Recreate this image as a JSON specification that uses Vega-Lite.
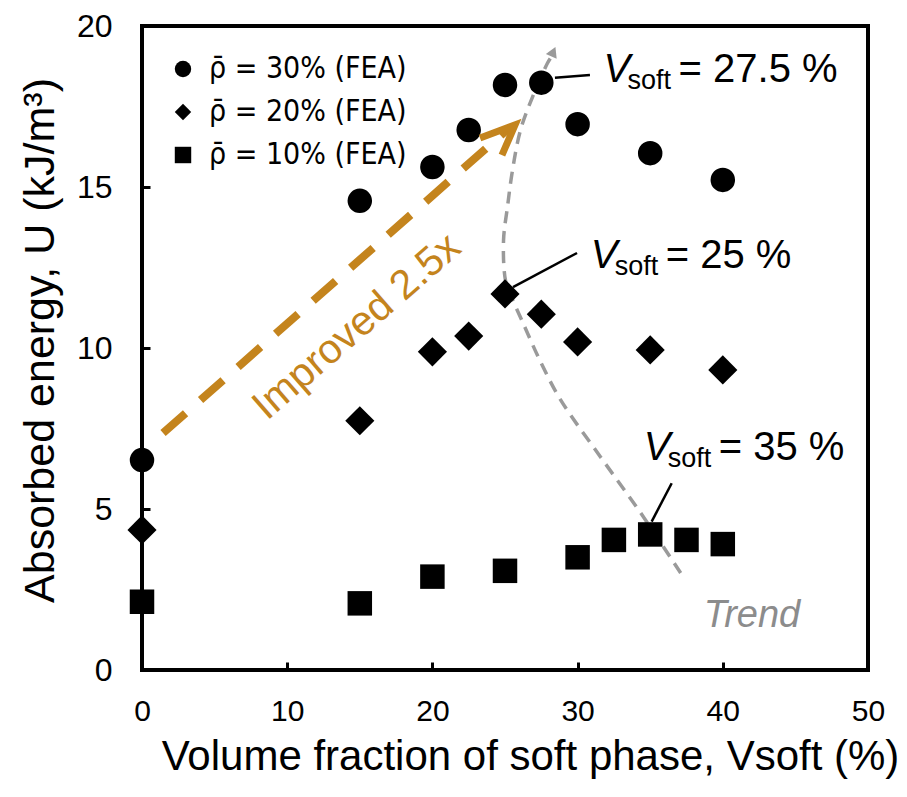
{
  "$schema": "https://vega.github.io/schema/vega-lite/v6.json",
  "width": 726,
  "height": 644,
  "autosize": "none",
  "padding": {"left": 142, "top": 26, "right": 39, "bottom": 127},
  "background": "white",
  "config": {
    "font": "Liberation Sans",
    "view": {"stroke": "black", "strokeWidth": 4}
  },
  "datasets": {
    "points": [
      {"x": 0, "y": 6.52, "series": "ρ̄ = 30% (FEA)"},
      {"x": 15, "y": 14.57, "series": "ρ̄ = 30% (FEA)"},
      {"x": 20, "y": 15.62, "series": "ρ̄ = 30% (FEA)"},
      {"x": 22.5, "y": 16.77, "series": "ρ̄ = 30% (FEA)"},
      {"x": 25, "y": 18.17, "series": "ρ̄ = 30% (FEA)"},
      {"x": 27.5, "y": 18.24, "series": "ρ̄ = 30% (FEA)"},
      {"x": 30, "y": 16.95, "series": "ρ̄ = 30% (FEA)"},
      {"x": 35, "y": 16.05, "series": "ρ̄ = 30% (FEA)"},
      {"x": 40, "y": 15.22, "series": "ρ̄ = 30% (FEA)"},
      {"x": 0, "y": 4.35, "series": "ρ̄ = 20% (FEA)"},
      {"x": 15, "y": 7.74, "series": "ρ̄ = 20% (FEA)"},
      {"x": 20, "y": 9.88, "series": "ρ̄ = 20% (FEA)"},
      {"x": 22.5, "y": 10.37, "series": "ρ̄ = 20% (FEA)"},
      {"x": 25, "y": 11.68, "series": "ρ̄ = 20% (FEA)"},
      {"x": 27.5, "y": 11.05, "series": "ρ̄ = 20% (FEA)"},
      {"x": 30, "y": 10.19, "series": "ρ̄ = 20% (FEA)"},
      {"x": 35, "y": 9.94, "series": "ρ̄ = 20% (FEA)"},
      {"x": 40, "y": 9.32, "series": "ρ̄ = 20% (FEA)"},
      {"x": 0, "y": 2.12, "series": "ρ̄ = 10% (FEA)"},
      {"x": 15, "y": 2.07, "series": "ρ̄ = 10% (FEA)"},
      {"x": 20, "y": 2.9, "series": "ρ̄ = 10% (FEA)"},
      {"x": 25, "y": 3.08, "series": "ρ̄ = 10% (FEA)"},
      {"x": 30, "y": 3.5, "series": "ρ̄ = 10% (FEA)"},
      {"x": 32.5, "y": 4.04, "series": "ρ̄ = 10% (FEA)"},
      {"x": 35, "y": 4.21, "series": "ρ̄ = 10% (FEA)"},
      {"x": 37.5, "y": 4.04, "series": "ρ̄ = 10% (FEA)"},
      {"x": 40, "y": 3.91, "series": "ρ̄ = 10% (FEA)"}
    ],
    "trend": [
      {"x": 37.1, "y": 3.01, "o": 1},
      {"x": 34.34, "y": 4.88, "o": 2},
      {"x": 31.59, "y": 6.61, "o": 3},
      {"x": 28.83, "y": 8.39, "o": 4},
      {"x": 27.45, "y": 9.57, "o": 5},
      {"x": 26.21, "y": 10.81, "o": 6},
      {"x": 25.38, "y": 11.65, "o": 7},
      {"x": 25.03, "y": 12.11, "o": 8},
      {"x": 24.9, "y": 13.35, "o": 9},
      {"x": 25.17, "y": 14.38, "o": 10},
      {"x": 25.52, "y": 15.53, "o": 11},
      {"x": 26.07, "y": 16.77, "o": 12},
      {"x": 26.9, "y": 17.8, "o": 13},
      {"x": 27.93, "y": 18.85, "o": 14},
      {"x": 28.2, "y": 19.05, "o": 15}
    ],
    "trendHead": [{"x": 28.33, "y": 19.2}],
    "improveLine": [
      {"x": 1.45, "y": 7.36, "o": 1},
      {"x": 25.29, "y": 16.83, "o": 2}
    ],
    "improveHead": [
      {"x": 23.28, "y": 16.52, "o": 1},
      {"x": 25.69, "y": 16.93, "o": 2},
      {"x": 24.79, "y": 15.99, "o": 3}
    ],
    "improveText": [{"x": 14.81, "y": 10.65, "label": "Improved 2.5x"}],
    "leaders": [
      {"x": 28.44, "y": 18.39, "x2": 30.85, "y2": 18.48},
      {"x": 25.55, "y": 11.89, "x2": 29.96, "y2": 12.95},
      {"x": 35.1, "y": 4.61, "x2": 36.48, "y2": 5.8}
    ],
    "annotations": [
      {"x": 31.79, "y": 18.26, "rest": "= 27.5 %"},
      {"x": 30.9, "y": 12.48, "rest": "= 25 %"},
      {"x": 34.55, "y": 6.52, "rest": "= 35 %"}
    ],
    "trendText": [{"x": 38.69, "y": 1.34, "label": "Trend"}]
  },
  "encoding": {
    "x": {
      "field": "x",
      "type": "quantitative",
      "scale": {"domain": [0, 50], "nice": false, "zero": false},
      "axis": {
        "values": [0, 10, 20, 30, 40, 50],
        "title": "Volume  fraction of soft phase, Vsoft (%)",
        "grid": false,
        "domain": false,
        "labelFlush": false,
        "tickSize": -8,
        "tickWidth": 3,
        "tickColor": "black",
        "labelPadding": 34,
        "labelFontSize": 30,
        "labelColor": "black",
        "labelFont": "Liberation Sans",
        "titleFont": "Liberation Sans",
        "titleFontSize": 42,
        "titleFontWeight": "normal",
        "titleColor": "black",
        "titlePadding": 10,
        "titleX": 388
      }
    },
    "y": {
      "field": "y",
      "type": "quantitative",
      "scale": {"domain": [0, 20], "nice": false, "zero": false},
      "axis": {
        "values": [0, 5, 10, 15, 20],
        "title": "Absorbed energy, U (kJ/m³)",
        "grid": false,
        "domain": false,
        "labelFlush": false,
        "tickSize": -8,
        "tickWidth": 3,
        "tickColor": "black",
        "labelPadding": 38,
        "labelFontSize": 32,
        "labelColor": "black",
        "labelFont": "Liberation Sans",
        "titleFont": "Liberation Sans",
        "titleFontSize": 43,
        "titleFontWeight": "normal",
        "titleColor": "black",
        "titlePadding": 14,
        "titleY": 314
      }
    }
  },
  "layer": [
    {
      "data": {"name": "trend"},
      "mark": {"type": "line", "color": "#9a9a9a", "strokeWidth": 3.5, "strokeDash": [12, 8], "interpolate": "catmull-rom"},
      "encoding": {"order": {"field": "o", "type": "quantitative"}}
    },
    {
      "data": {"name": "trendHead"},
      "mark": {"type": "point", "shape": "triangle-up", "filled": true, "color": "#9a9a9a", "size": 140, "angle": 24, "opacity": 1}
    },
    {
      "data": {"name": "points"},
      "mark": {"type": "point", "filled": true, "color": "black", "opacity": 1},
      "encoding": {
        "shape": {
          "field": "series",
          "type": "nominal",
          "scale": {"domain": ["ρ̄ = 30% (FEA)", "ρ̄ = 20% (FEA)", "ρ̄ = 10% (FEA)"], "range": ["circle", "diamond", "square"]},
          "legend": {
            "title": null,
            "orient": "none",
            "legendX": 26,
            "legendY": 28,
            "labelFont": "DejaVu Sans Condensed, DejaVu Sans",
            "labelFontSize": 30,
            "labelLimit": 600,
            "labelColor": "black",
            "symbolSize": 270,
            "symbolFillColor": "black",
            "symbolStrokeWidth": 0,
            "labelOffset": 11,
            "rowPadding": 13,
            "padding": 0
          }
        },
        "size": {
          "condition": {"test": "datum.series === 'ρ̄ = 20% (FEA)'", "value": 850},
          "value": 600
        }
      }
    },
    {
      "data": {"name": "improveLine"},
      "mark": {"type": "line", "color": "#C4841D", "strokeWidth": 8, "strokeDash": [30, 20], "strokeCap": "butt"},
      "encoding": {"order": {"field": "o", "type": "quantitative"}}
    },
    {
      "data": {"name": "improveHead"},
      "mark": {"type": "line", "color": "#C4841D", "strokeWidth": 7, "strokeJoin": "miter", "strokeCap": "butt"},
      "encoding": {"order": {"field": "o", "type": "quantitative"}}
    },
    {
      "data": {"name": "improveText"},
      "mark": {"type": "text", "color": "#C4841D", "fontSize": 41, "angle": -41, "align": "center", "baseline": "middle", "font": "Liberation Sans"},
      "encoding": {"text": {"field": "label"}}
    },
    {
      "data": {"name": "leaders"},
      "mark": {"type": "rule", "color": "black", "strokeWidth": 2.5},
      "encoding": {
        "x2": {"field": "x2"},
        "y2": {"field": "y2"}
      }
    },
    {
      "data": {"name": "annotations"},
      "mark": {"type": "text", "text": "V", "fontStyle": "italic", "fontSize": 40, "align": "left", "baseline": "alphabetic", "color": "black", "font": "Liberation Sans"}
    },
    {
      "data": {"name": "annotations"},
      "mark": {"type": "text", "text": "soft", "fontSize": 27, "align": "left", "baseline": "alphabetic", "dx": 24, "dy": 7, "color": "black", "font": "Liberation Sans"}
    },
    {
      "data": {"name": "annotations"},
      "mark": {"type": "text", "fontSize": 40, "align": "left", "baseline": "alphabetic", "dx": 75, "color": "black", "font": "Liberation Sans"},
      "encoding": {"text": {"field": "rest"}}
    },
    {
      "data": {"name": "trendText"},
      "mark": {"type": "text", "fontStyle": "italic", "fontSize": 38, "align": "left", "baseline": "alphabetic", "color": "#8c8c8c", "font": "Liberation Sans"},
      "encoding": {"text": {"field": "label"}}
    }
  ]
}
